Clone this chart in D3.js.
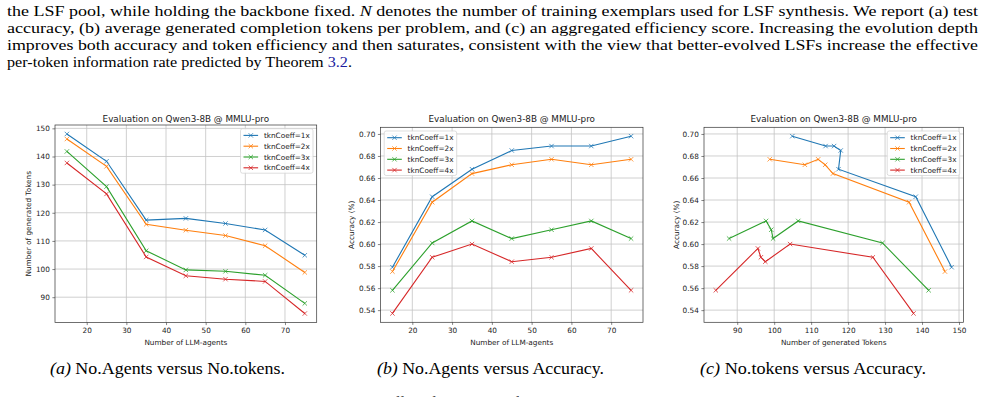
<!DOCTYPE html>
<html>
<head>
<meta charset="utf-8">
<script src="https://cdn.jsdelivr.net/npm/d3@7"></script>
<style>
  html, body { margin: 0; padding: 0; background: #fff; }
  svg { display: block; }
</style>
</head>
<body>
<svg id="fig" width="985" height="397"></svg>
<script>
// ---------------- DATA ----------------
const agents = [15, 25, 35, 45, 55, 65, 75];
const seriesNames = ["tknCoeff=1x", "tknCoeff=2x", "tknCoeff=3x", "tknCoeff=4x"];
const seriesColors = ["#1f77b4", "#ff7f0e", "#2ca02c", "#d62728"];

const tokens1x = [148.0, 138.3, 117.4, 118.0, 116.2, 113.9, 104.9];
const tokens2x = [146.2, 136.5, 115.9, 113.8, 111.9, 108.3, 98.8];
const tokens3x = [141.8, 129.3, 106.5, 99.7, 99.2, 97.8, 87.8];
const tokens4x = [137.7, 126.7, 104.3, 97.6, 96.4, 95.6, 84.2];

const acc1x = [0.579, 0.643, 0.668, 0.685, 0.689, 0.689, 0.698];
const acc2x = [0.575, 0.638, 0.664, 0.672, 0.677, 0.672, 0.677];
const acc3x = [0.558, 0.601, 0.621, 0.605, 0.613, 0.621, 0.605];
const acc4x = [0.537, 0.588, 0.600, 0.584, 0.588, 0.596, 0.558];

const agentTicks = [20, 30, 40, 50, 60, 70];
const tokenTicks = [90, 100, 110, 120, 130, 140, 150];
const tokenXTicks = [90, 100, 110, 120, 130, 140, 150];
const accTicks = [0.54, 0.56, 0.58, 0.60, 0.62, 0.64, 0.66, 0.68, 0.70];

const chartTitle = "Evaluation on Qwen3-8B @ MMLU-pro";
const labelAgents = "Number of LLM-agents";
const labelTokens = "Number of generated Tokens";
const labelAcc = "Accuracy (%)";

const captions = [
  ["(a)", " No.Agents versus No.tokens."],
  ["(b)", " No.Agents versus Accuracy."],
  ["(c)", " No.tokens versus Accuracy."]
];

const paraLines = [
  [["the LSF pool, while holding the backbone fixed. ", "n"], ["N", "i"], [" denotes the number of training exemplars used for LSF synthesis. We report (a) test", "n"]],
  [["accuracy, (b) average generated completion tokens per problem, and (c) an aggregated efficiency score. Increasing the evolution depth", "n"]],
  [["improves both accuracy and token efficiency and then saturates, consistent with the view that better-evolved LSFs increase the effective", "n"]]
];
const paraLast = ["per-token information rate predicted by Theorem ", "3.2", "."];
const figureLine = "Figure 4: Effect of the number of LLM-agents on MMLU-pro.";

// ---------------- DRAW ----------------
const svg = d3.select("#fig");
const serif = "'Liberation Serif', 'Times New Roman', serif";
const sans = "'DejaVu Sans', sans-serif";

const tokenSeries = [tokens1x, tokens2x, tokens3x, tokens4x];
const accSeries = [acc1x, acc2x, acc3x, acc4x];

function padDomain(arrs) {
  const all = arrs.flat();
  const lo = d3.min(all), hi = d3.max(all);
  const m = (hi - lo) * 0.05;
  return [lo - m, hi + m];
}

const panels = [
  { xs: tokenSeries.map(() => agents), ys: tokenSeries,
    xDom: padDomain([agents]), yDom: padDomain(tokenSeries),
    box: [55, 316.7, 125, 322.5], xTicks: agentTicks, yTicks: tokenTicks,
    yFmt: d3.format("d"), xlabel: labelAgents, ylabel: labelTokens, ylabX: 28.5, legend: "right",
    cap: [50, 235] },
  { xs: accSeries.map(() => agents), ys: accSeries,
    xDom: padDomain([agents]), yDom: padDomain(accSeries),
    box: [380.5, 643, 127.3, 322.3], xTicks: agentTicks, yTicks: accTicks,
    yFmt: d3.format(".2f"), xlabel: labelAgents, ylabel: labelAcc, ylabX: 351.7, legend: "left",
    cap: [377, 227] },
  { xs: tokenSeries, ys: accSeries,
    xDom: padDomain(tokenSeries), yDom: padDomain(accSeries),
    box: [704, 963.4, 127.3, 322.3], xTicks: tokenXTicks, yTicks: accTicks,
    yFmt: d3.format(".2f"), xlabel: labelTokens, ylabel: labelAcc, ylabX: 676, legend: "right",
    cap: [700, 226] }
];

const tickFont = 7.3;

panels.forEach((p, pi) => {
  const [L, R, T, B] = p.box;
  const x = d3.scaleLinear().domain(p.xDom).range([L, R]);
  const y = d3.scaleLinear().domain(p.yDom).range([B, T]);
  const g = svg.append("g");

  // grid
  g.append("g").selectAll("line").data(p.xTicks).join("line")
    .attr("x1", d => x(d)).attr("x2", d => x(d)).attr("y1", T).attr("y2", B)
    .attr("stroke", "#c4c4c4").attr("stroke-width", 0.8);
  g.append("g").selectAll("line").data(p.yTicks).join("line")
    .attr("x1", L).attr("x2", R).attr("y1", d => y(d)).attr("y2", d => y(d))
    .attr("stroke", "#c4c4c4").attr("stroke-width", 0.8);

  // series
  p.ys.forEach((ys, si) => {
    const pts = ys.map((v, i) => [p.xs[si][i], v]);
    g.append("path")
      .attr("d", d3.line().x(d => x(d[0])).y(d => y(d[1]))(pts))
      .attr("fill", "none").attr("stroke", seriesColors[si]).attr("stroke-width", 1.1);
    const mk = g.append("g").attr("stroke", seriesColors[si]).attr("stroke-width", 0.75);
    pts.forEach(d => {
      const cx = x(d[0]), cy = y(d[1]), s = 2.2;
      mk.append("line").attr("x1", cx - s).attr("y1", cy - s).attr("x2", cx + s).attr("y2", cy + s);
      mk.append("line").attr("x1", cx - s).attr("y1", cy + s).attr("x2", cx + s).attr("y2", cy - s);
    });
  });

  // axes
  const xa = g.append("g").attr("transform", `translate(0,${B})`)
    .call(d3.axisBottom(x).tickValues(p.xTicks).tickSize(2.6).tickPadding(3.2).tickFormat(d3.format("d")));
  const ya = g.append("g").attr("transform", `translate(${L},0)`)
    .call(d3.axisLeft(y).tickValues(p.yTicks).tickSize(2.6).tickPadding(2.6).tickFormat(p.yFmt));
  [xa, ya].forEach(a => {
    a.select(".domain").remove();
    a.selectAll(".tick line").attr("stroke", "#333").attr("stroke-width", 0.6);
    a.selectAll(".tick text").attr("font-family", sans).attr("font-size", tickFont).attr("fill", "#222");
  });

  // frame
  g.append("rect").attr("x", L).attr("y", T).attr("width", R - L).attr("height", B - T)
    .attr("fill", "none").attr("stroke", "#333").attr("stroke-width", 0.7);

  // title
  g.append("text").attr("x", (L + R) / 2).attr("y", 121.5).attr("text-anchor", "middle")
    .attr("font-family", sans).attr("font-size", 8.8).attr("fill", "#222").text(chartTitle);
  // xlabel
  g.append("text").attr("x", (L + R) / 2).attr("y", 344.5).attr("text-anchor", "middle")
    .attr("font-family", sans).attr("font-size", tickFont).attr("fill", "#222").text(p.xlabel);
  // ylabel
  g.append("text").attr("transform", `translate(${p.ylabX},${(T + B) / 2}) rotate(-90)`)
    .attr("text-anchor", "middle").attr("dy", "0.35em")
    .attr("font-family", sans).attr("font-size", tickFont).attr("fill", "#222").text(p.ylabel);

  // legend
  const lw = 72.5, lh = 44.5;
  const lx = p.legend === "right" ? R - 3.7 - lw : L + 3.7;
  const ly = T + 3.7;
  const lg = g.append("g");
  lg.append("rect").attr("x", lx).attr("y", ly).attr("width", lw).attr("height", lh).attr("rx", 2)
    .attr("fill", "#fff").attr("fill-opacity", 0.85).attr("stroke", "#d0d0d0").attr("stroke-width", 0.7);
  seriesNames.forEach((nm, si) => {
    const ry = ly + 6.7 + si * 10.8;
    lg.append("line").attr("x1", lx + 3).attr("x2", lx + 17.6).attr("y1", ry).attr("y2", ry)
      .attr("stroke", seriesColors[si]).attr("stroke-width", 1.1);
    const cx = lx + 10.3, s = 2.2;
    lg.append("path").attr("d", `M${cx - s},${ry - s}L${cx + s},${ry + s}M${cx - s},${ry + s}L${cx + s},${ry - s}`)
      .attr("stroke", seriesColors[si]).attr("stroke-width", 0.75);
    lg.append("text").attr("x", lx + 23.4).attr("y", ry).attr("dy", "0.35em")
      .attr("font-family", sans).attr("font-size", tickFont).attr("fill", "#222").text(nm);
  });

  // caption
  const cap = svg.append("text").attr("x", p.cap[0]).attr("y", 374)
    .attr("textLength", p.cap[1]).attr("lengthAdjust", "spacingAndGlyphs")
    .attr("font-family", serif).attr("font-size", 16).attr("fill", "#000");
  cap.append("tspan").attr("font-style", "italic").text(captions[pi][0]);
  cap.append("tspan").text(captions[pi][1]);
});

// ---------------- PARAGRAPH ----------------
const paraFont = 15.4;
const pLeft = 7, pRight = 978;
const baselines = [16, 33, 50, 67];
paraLines.forEach((segs, li) => {
  const t = svg.append("text").attr("x", pLeft).attr("y", baselines[li])
    .attr("textLength", pRight - pLeft).attr("lengthAdjust", "spacingAndGlyphs")
    .attr("font-family", serif).attr("font-size", paraFont).attr("fill", "#000")
    .style("white-space", "pre");
  segs.forEach(([txt, st]) => {
    t.append("tspan").attr("font-style", st === "i" ? "italic" : "normal").text(txt);
  });
});
const last = svg.append("text").attr("x", pLeft).attr("y", baselines[3])
  .attr("textLength", 345).attr("lengthAdjust", "spacingAndGlyphs")
  .attr("font-family", serif).attr("font-size", paraFont).attr("fill", "#000");
last.append("tspan").text(paraLast[0]);
last.append("tspan").attr("fill", "#1a1a9e").text(paraLast[1]);
last.append("tspan").text(paraLast[2]);

// partially visible figure caption at the bottom edge
svg.append("text").attr("x", 330).attr("y", 407).attr("textLength", 358).attr("lengthAdjust", "spacing")
  .attr("font-family", serif).attr("font-size", 15).attr("fill", "#000").text(figureLine);
</script>
</body>
</html>
